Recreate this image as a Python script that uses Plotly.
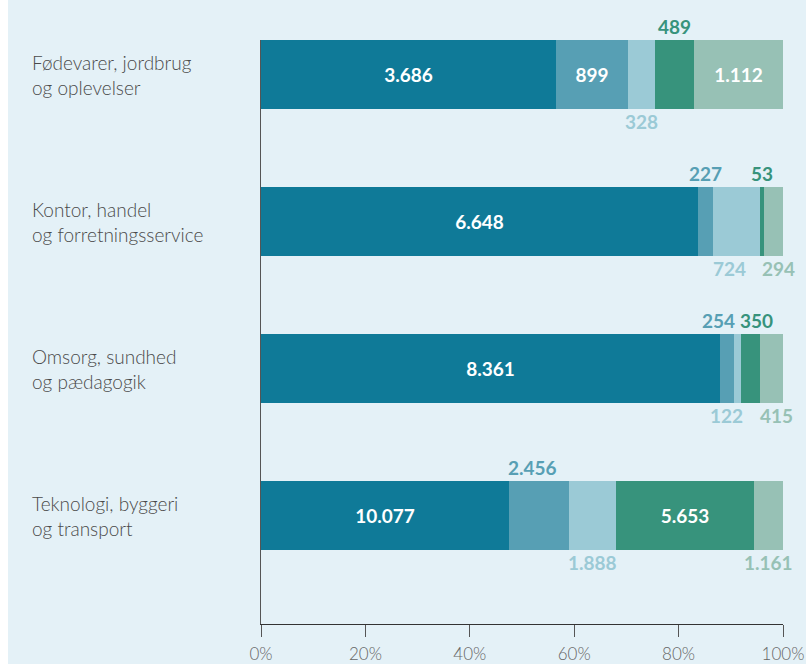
"""Stacked 100% bar chart, Danish labels."""

import plotly.graph_objects as go

categories = [
    "Fødevarer, jordbrug<br>og oplevelser",
    "Kontor, handel<br>og forretningsservice",
    "Omsorg, sundhed<br>og pædagogik",
    "Teknologi, byggeri<br>og transport",
]
series_1 = [3686, 6648, 8361, 10077]
series_2 = [899, 227, 254, 2456]
series_3 = [328, 724, 122, 1888]
series_4 = [489, 53, 350, 5653]
series_5 = [1112, 294, 415, 1161]
tick_vals = [0, 0.2, 0.4, 0.6, 0.8, 1.0]
tick_text = ["0%", "20%", "40%", "60%", "80%", "100%"]

series = [series_1, series_2, series_3, series_4, series_5]
colors = ["#0F7A98", "#579FB4", "#9BCAD6", "#37937C", "#97C1B5"]

# layout in pixels (page has an 8px white strip on the left)
W, H = 798, 664
L, R, T, B = 253, 23, 40, 40
PW, PH = W - L - R, H - T - B
BAR_W = 0.47
INSIDE_MIN = 0.125          # share needed to print the label inside the bar
# small sideways nudges (px) for crowded outside labels: (row, series) -> px
nudge = {(1, 2): -7, (1, 4): 5, (2, 1): -9, (2, 3): 6, (2, 2): -11, (2, 4): 5,
         (3, 1): -6}


def fmt(v):
    return f"{v:,}".replace(",", ".")


totals = [sum(s[i] for s in series) for i in range(len(categories))]
shares = [[s[i] / totals[i] for i in range(len(categories))] for s in series]

fig = go.Figure()
for k, s in enumerate(series):
    txt = [fmt(v) if shares[k][i] >= INSIDE_MIN else "" for i, v in enumerate(s)]
    fig.add_bar(
        x=shares[k], y=list(range(len(categories))), orientation="h",
        width=BAR_W, marker=dict(color=colors[k], line_width=0),
        text=txt, textposition="inside", insidetextanchor="middle", textangle=0,
        textfont=dict(family="Lato", size=19, color="white", weight="bold"),
        hoverinfo="skip", showlegend=False,
    )

# outside labels: series 2 & 4 above, 3 & 5 below
for i in range(len(categories)):
    left = 0
    for k, s in enumerate(series):
        sh = shares[k][i]
        mid = left + sh / 2
        left += sh
        if sh >= INSIDE_MIN:
            continue
        above = k in (1, 3)
        fig.add_annotation(
            x=mid, y=i - BAR_W / 2 if above else i + BAR_W / 2,
            text=fmt(s[i]), showarrow=False,
            xanchor="center", yanchor="bottom" if above else "top",
            yshift=0 if above else 1, xshift=nudge.get((i, k), 0),
            font=dict(family="Lato", size=19, color=colors[k], weight="bold"),
        )

# category labels, left aligned
for i, c in enumerate(categories):
    fig.add_annotation(
        x=-(L - 22) / PW, xref="paper", y=i, text=c, showarrow=False,
        xanchor="left", yanchor="middle", align="left",
        font=dict(family="Lato", size=19, color="#4A4A4A", weight=300),
    )

fig.update_layout(
    width=W, height=H, barmode="stack", bargap=0,
    margin=dict(l=L, r=R, t=T, b=B, autoexpand=False),
    paper_bgcolor="#E4F1F7", plot_bgcolor="#E4F1F7",
    uniformtext=dict(minsize=19, mode="show"),
    xaxis=dict(
        range=[0, 1], tickvals=tick_vals, ticktext=tick_text,
        showgrid=False, zeroline=False, showline=True, linecolor="#333",
        linewidth=1, ticks="outside", ticklen=12, tickcolor="#555",
        ticklabelstandoff=3, automargin=False,
        tickfont=dict(family="Lato", size=17, color="#666", weight=300),
    ),
    yaxis=dict(
        range=[3 + (PH / 147 - 3 - 0.235), -0.235], automargin=False,
        showticklabels=False, showgrid=False, zeroline=False,
        showline=True, linecolor="#555", linewidth=1,
    ),
)

fig.write_html(
    "out.html",
    post_script="document.body.style.margin='0 0 0 8px';"
                "document.body.style.overflow='hidden';",
)
